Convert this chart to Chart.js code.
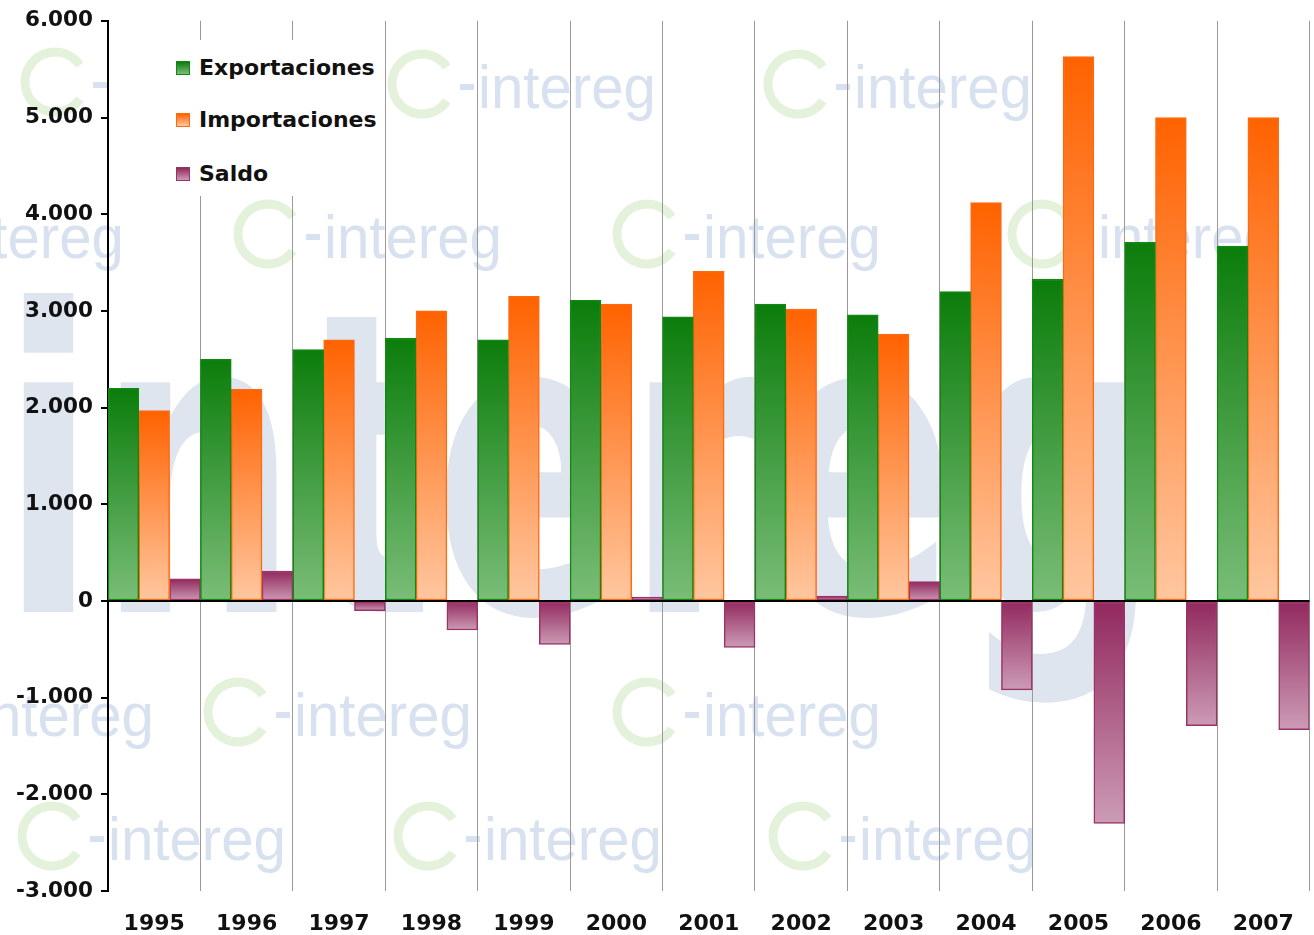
<!DOCTYPE html>
<html>
<head>
<meta charset="utf-8">
<script src="https://cdn.jsdelivr.net/npm/chart.js@4"></script>
<style>
  html, body { margin: 0; padding: 0; background: #fff; }
  #wrap { position: relative; width: 1314px; height: 935px; }
  #legend {
    position: absolute; left: 111px; top: 40px; width: 270px; height: 156px;
    background: #fff; font: bold 22px "DejaVu Sans", Verdana, sans-serif; color: #111;
  }
  .item { position: absolute; left: 65px; display: flex; align-items: center; }
  .box { width: 12px; height: 12px; border: 1px solid; margin-right: 9px; }
</style>
</head>
<body>
<div id="wrap">
  <canvas id="c" width="1314" height="935"></canvas>
  <div id="legend"></div>
</div>
<script>
const years = ["1995", "1996", "1997", "1998", "1999", "2000", "2001", "2002", "2003", "2004", "2005", "2006", "2007"];
const exportaciones = [2200, 2500, 2600, 2720, 2700, 3110, 2940, 3070, 2960, 3200, 3330, 3710, 3670];
const importaciones = [1970, 2190, 2700, 3000, 3150, 3070, 3410, 3020, 2760, 4120, 5630, 5000, 5000];
const saldo = [230, 310, -100, -300, -450, 40, -480, 50, 200, -920, -2300, -1290, -1330];

const qs = (id) => document.getElementById(id);

// top colour, bottom colour, border
const styles = [
  { label: "Exportaciones", top: "#0b7d0b", bottom: "#7abd78", border: "#118811" },
  { label: "Importaciones", top: "#ff6200", bottom: "#ffc7a0", border: "#ff6a10" },
  { label: "Saldo", top: "#92285e", bottom: "#cc9bb5", border: "#993366" }
];

function barGradient(s) {
  return (c) => {
    const chart = c.chart;
    const y = chart.scales.y;
    if (!y || !chart.chartArea || typeof c.raw !== "number") return s.top;
    const p = y.getPixelForValue(c.raw);
    const p0 = y.getPixelForValue(0);
    const top = Math.min(p, p0), bot = Math.max(p, p0);
    if (bot - top < 1) return s.top;
    const g = chart.ctx.createLinearGradient(0, top, 0, bot);
    g.addColorStop(0, s.top);
    g.addColorStop(1, s.bottom);
    return g;
  };
}

const fmt = (v) => {
  const neg = v < 0;
  const a = Math.abs(v);
  const txt = a >= 1000 ? Math.floor(a / 1000) + "." + String(a % 1000).padStart(3, "0") : String(a);
  return (neg ? "-" : "") + txt;
};

// background "intereg" logos
const watermark = {
  id: "watermark",
  beforeDraw(chart) {
    const ctx = chart.ctx;
    ctx.save();
    ctx.fillStyle = "#dfe5ee";
    ctx.font = "bold 420px 'DejaVu Sans', sans-serif";
    const big = ctx.measureText("intereg").width;
    ctx.save();
    ctx.translate(0, 612);
    ctx.scale(1160 / big, 1);
    ctx.fillText("intereg", 0, 0);
    ctx.restore();

    ctx.font = "62px 'Liberation Sans', sans-serif";
    const w = ctx.measureText("intereg").width;
    const spots = [
      [15, 106], [382, 108], [758, 108], [-150, 258], [228, 258], [607, 258], [1002, 258],
      [-120, 736], [198, 736], [607, 736], [12, 860], [388, 860], [763, 860]
    ];
    for (const [x, yy] of spots) {
      ctx.strokeStyle = "rgba(205,230,190,0.55)";
      ctx.lineWidth = 9;
      ctx.beginPath();
      ctx.arc(x + 40, yy - 24, 30, 0.6, 2 * Math.PI - 0.6);
      ctx.stroke();
      ctx.fillStyle = "rgba(190,205,228,0.6)";
      ctx.fillRect(x + 78, yy - 24, 14, 6);
      ctx.save();
      ctx.translate(x + 96, yy);
      ctx.scale(178 / w, 1);
      ctx.fillText("intereg", 0, 0);
      ctx.restore();
    }
    ctx.restore();
  }
};

new Chart(qs("c"), {
  type: "bar",
  data: {
    labels: years,
    datasets: [exportaciones, importaciones, saldo].map((d, i) => ({
      label: styles[i].label,
      data: d,
      backgroundColor: barGradient(styles[i]),
      borderColor: styles[i].border,
      borderWidth: 1.5,
      borderSkipped: false,
      categoryPercentage: 1,
      barPercentage: 1
    }))
  },
  options: {
    responsive: false,
    animation: false,
    layout: { padding: { top: 12, right: 2, bottom: 0, left: 0 } },
    plugins: { legend: { display: false }, tooltip: { enabled: false } },
    scales: {
      x: {
        afterFit: (s) => { s.height = 44; },
        grid: { offset: true, color: "#9a9a9a", lineWidth: 1, drawTicks: false },
        border: { display: false },
        ticks: { color: "#111", font: { family: "DejaVu Sans", weight: "bold", size: 22 }, padding: 20 }
      },
      y: {
        min: -3000,
        max: 6000,
        afterFit: (s) => { s.width = 108; },
        border: { display: true, color: "#000", width: 2 },
        grid: {
          color: (c) => (c.tick && c.tick.value === 0 ? "#000" : "rgba(0,0,0,0)"),
          lineWidth: 2,
          tickColor: "#000",
          tickLength: 7
        },
        ticks: {
          stepSize: 1000,
          color: "#111",
          font: { family: "DejaVu Sans", weight: "bold", size: 21.5 },
          padding: 8,
          callback: (v) => fmt(v)
        }
      }
    }
  },
  plugins: [watermark]
});

const legend = qs("legend");
styles.forEach((s, i) => {
  const d = document.createElement("div");
  d.className = "item";
  d.style.top = [15, 67, 121][i] + "px";
  d.innerHTML = `<span class="box" style="border-color:${s.border};background:linear-gradient(${s.top},${s.bottom})"></span>${s.label}`;
  legend.appendChild(d);
});
</script>
</body>
</html>
